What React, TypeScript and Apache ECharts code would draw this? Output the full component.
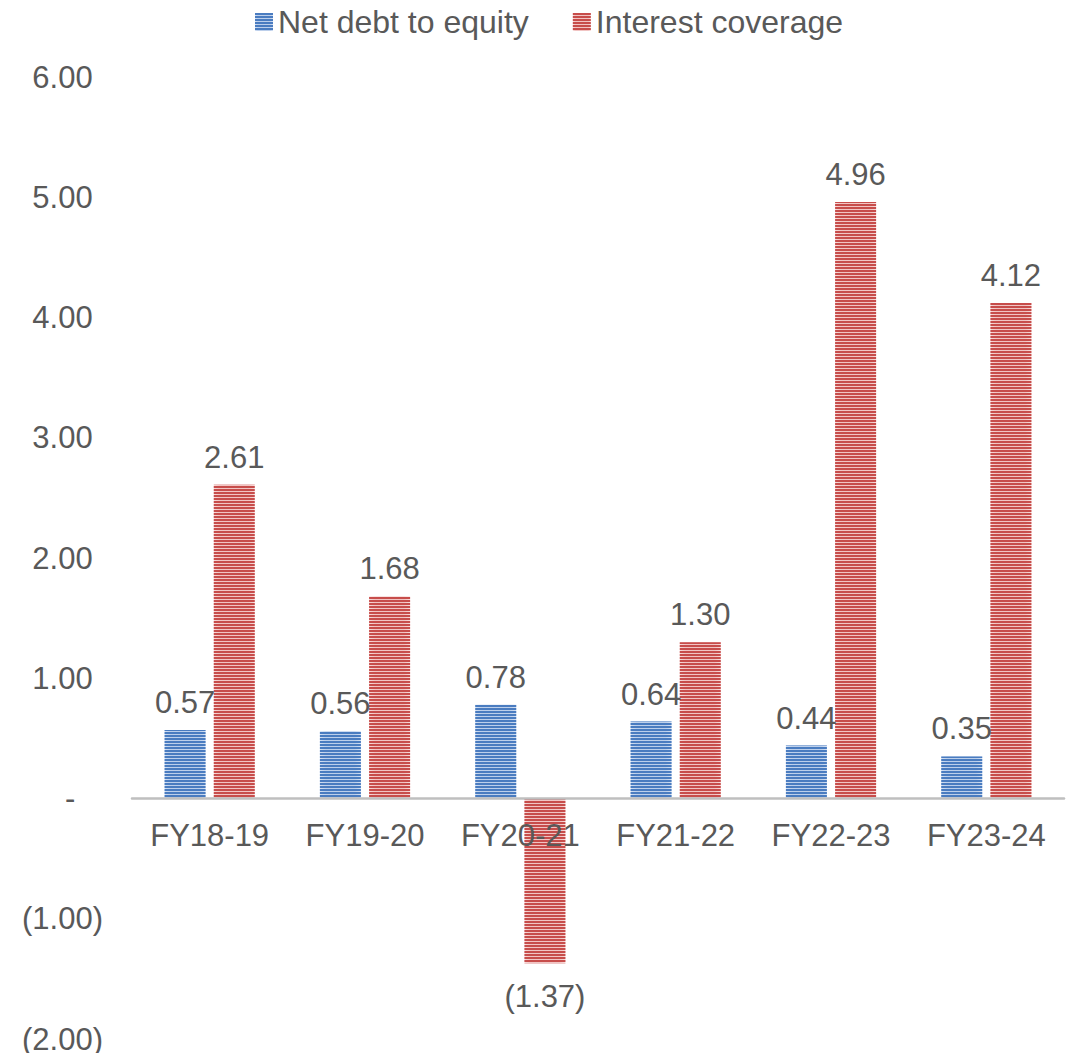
import React, { useEffect, useRef } from "react";
import * as echarts from "echarts";

const categories = ["FY18-19", "FY19-20", "FY20-21", "FY21-22", "FY22-23", "FY23-24"];
const netDebtToEquity = [0.57, 0.56, 0.78, 0.64, 0.44, 0.35];
const interestCoverage = [2.61, 1.68, -1.37, 1.3, 4.96, 4.12];
const yTicks = { min: -2, max: 6, interval: 1 };

const FONT = "'Liberation Sans', Arial, sans-serif";
const TEXT = "#595959";

const GRID_TOP = 77;
const GRID_BOTTOM = 22;
const CHART_H = 1061;

// Accounting style: negatives in parentheses, zero as a dash
const fmt = (v: number) => {
  if (Math.abs(v) < 1e-9) return "-";
  const s = Math.abs(v).toFixed(2);
  return v < 0 ? `(${s})` : s;
};

const stripedBar = (edge: string, mid: string, stripe: string) => ({
  color: new echarts.graphic.LinearGradient(0, 0, 1, 0, [
    { offset: 0, color: edge },
    { offset: 0.15, color: mid },
    { offset: 0.85, color: mid },
    { offset: 1, color: edge },
  ]),
  decal: {
    symbol: "rect",
    symbolSize: 1,
    dashArrayX: [1, 0],
    dashArrayY: [2, 1],
    rotation: 0,
    color: stripe,
  },
});

const makeData = (vals: number[]) =>
  vals.map((v) =>
    v < 0
      ? { value: v, label: { position: "bottom", distance: 18 } }
      : { value: v }
  );

const labelStyle = {
  show: true,
  position: "top",
  distance: 12,
  fontFamily: FONT,
  fontSize: 31,
  color: TEXT,
  formatter: (p: any) => fmt(p.value),
};

export default function App() {
  const ref = useRef<HTMLDivElement>(null);
  useEffect(() => {
    if (!ref.current) return;
    const chart = echarts.init(ref.current, undefined, { renderer: "svg" });
    // The category axis sits on the zero line: shift it up from the grid's bottom edge
    const plotH = CHART_H - GRID_TOP - GRID_BOTTOM;
    const zeroFromBottom = (plotH * (0 - yTicks.min)) / (yTicks.max - yTicks.min);
    chart.setOption({
      animation: false,
      backgroundColor: "#ffffff",
      textStyle: { fontFamily: FONT },
      legend: {
        top: 1,
        left: 250,
        icon: "rect",
        itemWidth: 18,
        itemHeight: 18,
        itemGap: 44,
        textStyle: { fontFamily: FONT, fontSize: 32, color: TEXT },
        data: ["Net debt to equity", "Interest coverage"],
      },
      grid: {
        left: 132,
        right: 15,
        top: GRID_TOP,
        bottom: GRID_BOTTOM,
        containLabel: false,
        outerBoundsMode: "none",
      },
      xAxis: {
        type: "category",
        data: categories,
        z: 10,
        position: "bottom",
        offset: -zeroFromBottom,
        axisLine: { show: true, onZero: false, lineStyle: { color: "#bfbfbf", width: 2.5 } },
        axisTick: { show: false },
        axisLabel: { fontFamily: FONT, fontSize: 31, color: TEXT, margin: 21 },
      },
      yAxis: {
        type: "value",
        min: yTicks.min,
        max: yTicks.max,
        interval: yTicks.interval,
        splitLine: { show: false },
        axisLine: { show: false },
        axisTick: { show: false },
        axisLabel: {
          margin: 29,
          formatter: (v: number) => {
            const s = fmt(v);
            if (v < 0) return `{a|${s}}`;
            if (s === "-") return `{a|-}{p|0)}`;
            return `{a|${s}}{p|)}`;
          },
          rich: {
            a: { fontFamily: FONT, fontSize: 31, color: TEXT },
            p: { fontFamily: FONT, fontSize: 31, color: "rgba(0,0,0,0)" },
          },
        },
      },
      series: [
        {
          name: "Net debt to equity",
          type: "bar",
          barWidth: 41,
          barGap: "20%",
          data: makeData(netDebtToEquity),
          itemStyle: stripedBar("#d3e0f3", "#bccfeb", "#4a7cc0"),
          label: labelStyle,
        },
        {
          name: "Interest coverage",
          type: "bar",
          barWidth: 41,
          barGap: "20%",
          data: makeData(interestCoverage),
          itemStyle: stripedBar("#f7dbda", "#f1c4c3", "#c74d4b"),
          label: labelStyle,
        },
      ],
    });
    return () => chart.dispose();
  }, []);
  return <div ref={ref} style={{ width: 1079, height: 1061, margin: -8 }} />;
}
